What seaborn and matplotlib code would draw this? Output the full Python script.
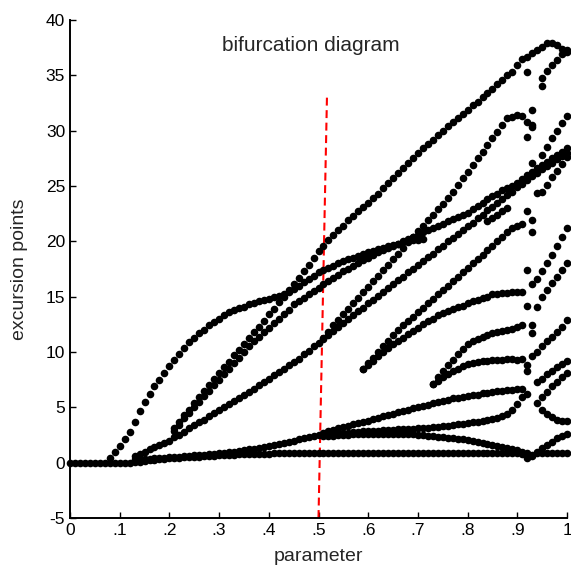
import numpy as np
import pandas as pd
import seaborn as sns
import matplotlib.pyplot as plt

# parameter sweep step (every branch is sampled on this grid)
step = 0.01

# --- branches of the diagram: start parameter + excursion values ---
flat_x0 = 0.00
flat_y = [0, 0, 0, 0, 0, 0, 0, 0, 0, 0, 0, 0, 0,
          0.05, 0.1, 0.15, 0.2, 0.25, 0.3, 0.35, 0.4, 0.42, 0.45,
          0.48, 0.5, 0.52, 0.55, 0.58, 0.6, 0.62, 0.65, 0.68, 0.7,
          0.72, 0.74, 0.76, 0.78, 0.8, 0.8, 0.82, 0.82, 0.84, 0.85,
          0.85, 0.86, 0.86, 0.87, 0.85, 0.87, 0.88, 0.86, 0.87, 0.88,
          0.87, 0.86, 0.88, 0.87, 0.85, 0.88, 0.87, 0.86, 0.88, 0.87,
          0.86, 0.88, 0.87, 0.85, 0.87, 0.88, 0.86, 0.87, 0.88, 0.87,
          0.86, 0.87, 0.88, 0.86, 0.87, 0.85, 0.87, 0.88, 0.86, 0.87,
          0.88, 0.86, 0.87, 0.87, 0.86, 0.88, 0.87, 0.85, 0.8, 0.4,
          0.7, 0.85, 0.87, 0.86, 0.88, 0.87, 0.86, 0.87]

low_trunk_x0 = 0.13
low_trunk_y = [0.3, 0.3, 0.35, 0.35, 0.4, 0.4, 0.45, 0.5, 0.5, 0.55,
               0.6, 0.6, 0.65, 0.7, 0.72, 0.75, 0.8, 0.85, 0.9, 0.95,
               1.0, 1.05, 1.1, 1.2, 1.25, 1.35, 1.4, 1.5, 1.6, 1.7,
               1.8, 1.9, 2.0, 2.1, 2.2, 2.3, 2.4, 2.5]

low1_x0 = 0.51
low1_y = [2.7, 2.85, 2.95, 3.1, 3.2, 3.35, 3.45, 3.55, 3.7, 3.8,
          3.95, 4.05, 4.2, 4.3, 4.4, 4.55, 4.65, 4.75, 4.9, 5.0,
          5.1, 5.25, 5.35, 5.5, 5.6, 5.7, 5.8, 5.85, 5.95, 6.0,
          6.1, 6.15, 6.25, 6.3, 6.4, 6.45, 6.5, 6.55, 6.6, 6.65, 6.7]

low2_x0 = 0.51
low2_y = [2.5, 2.55, 2.6, 2.65, 2.7, 2.72, 2.75, 2.8, 2.82, 2.85,
          2.88, 2.9, 2.92, 2.95, 2.97, 3.0, 3.0, 3.05, 3.05, 3.1,
          3.12, 3.15, 3.2, 3.25, 3.3, 3.35, 3.4, 3.45, 3.5, 3.6,
          3.65, 3.7, 3.8, 3.85, 3.95, 4.05, 4.2, 4.4, 4.8, 5.3, 5.9]

low3_x0 = 0.51
low3_y = [2.4, 2.42, 2.45, 2.48, 2.5, 2.52, 2.55, 2.57, 2.58, 2.6,
          2.6, 2.62, 2.62, 2.63, 2.62, 2.6, 2.6, 2.58, 2.55, 2.52,
          2.48, 2.45, 2.4, 2.35, 2.3, 2.25, 2.2, 2.15, 2.1, 2.05,
          1.95, 1.9, 1.8, 1.72, 1.62, 1.52, 1.42, 1.32, 1.2, 1.1, 1.0, 0.9]

arch_x0 = 0.08
arch_y = [0.4, 1.0, 1.5, 2.1, 2.8, 3.7, 4.7, 5.5, 6.2, 6.9,
          7.5, 8.1, 8.7, 9.3, 9.8, 10.4, 10.9, 11.3, 11.7, 12.0,
          12.4, 12.7, 13.0, 13.3, 13.6, 13.8, 14.0, 14.1, 14.3, 14.4,
          14.6, 14.7, 14.8, 15.0, 15.1, 15.2, 15.4, 15.7, 16.0, 16.3,
          16.6, 16.9, 17.2, 17.4, 17.6, 17.8, 18.0, 18.2, 18.4, 18.5,
          18.7, 18.9, 19.0, 19.1, 19.3, 19.4, 19.6, 19.7, 19.8, 19.9,
          20.0, 20.1, 20.1, 20.2]

top_x0 = 0.21
top_y = [3.1, 3.7, 4.3, 4.8, 5.4, 5.9, 6.5, 7.0, 7.6, 8.1,
         8.6, 9.1, 9.7, 10.2, 10.7, 11.3, 11.8, 12.3, 12.8, 13.4,
         13.9, 14.5, 15.0, 15.6, 16.1, 16.7, 17.3, 17.9, 18.5, 19.1,
         19.6, 20.1, 20.6, 21.0, 21.4, 21.9, 22.3, 22.7, 23.1, 23.5,
         23.9, 24.3, 24.8, 25.3, 25.7, 26.2, 26.6, 27.1, 27.5, 28.0,
         28.4, 28.8, 29.2, 29.6, 30.0, 30.4, 30.8, 31.1, 31.5, 31.9,
         32.3, 32.6, 33.0, 33.4, 33.8, 34.2, 34.6, 35.0, 35.3, 35.9,
         36.5, 36.7, 37.0, 37.3, 37.6, 37.9, 37.9, 37.7, 37.4, 37.1]

mid_x0 = 0.21
mid_y = [2.9, 3.4, 4.0, 4.5, 5.0, 5.5, 6.0, 6.5, 7.0, 7.5,
         8.0, 8.5, 9.0, 9.5, 10.0, 10.5, 11.0, 11.4, 11.8, 12.2,
         12.6, 13.0, 13.4, 13.8, 14.3, 14.6, 14.9, 15.2, 15.5, 15.8,
         16.1, 16.4, 16.7, 17.0, 17.3, 17.5, 17.8, 18.0, 18.3, 18.5,
         18.8, 19.0, 19.2, 19.4, 19.6, 19.8, 20.0, 20.2, 20.4, 20.6,
         20.8, 21.0, 21.2, 21.4, 21.6, 21.8, 22.0, 22.2, 22.4, 22.6,
         22.9, 23.2, 23.5, 23.8, 24.1, 24.3, 24.6, 24.8, 25.0, 25.3,
         25.6, 26.0, 26.3, 26.6, 26.9, 27.2, 27.5, 27.8, 28.1, 28.4]

fan_trunk_x0 = 0.13
fan_trunk_y = [0.6, 0.8, 1.0, 1.2, 1.4, 1.6, 1.8, 2.0, 2.3, 2.5,
               2.8, 3.1, 3.4, 3.7, 3.9, 4.2, 4.5, 4.8, 5.0, 5.3,
               5.6, 5.8, 6.1, 6.4, 6.7, 7.0, 7.3, 7.6, 7.9, 8.2,
               8.5, 8.8, 9.1, 9.4, 9.8, 10.1, 10.5, 10.8]

fan1_x0 = 0.51
fan1_y = [11.3, 11.8, 12.4, 12.9, 13.4, 13.9, 14.4, 14.9, 15.4, 15.9,
          16.4, 16.9, 17.4, 17.9, 18.4, 18.9, 19.4, 19.9, 20.4, 20.9,
          21.4, 21.9, 22.4, 22.9, 23.4, 23.9, 24.5, 25.1, 25.7, 26.3,
          26.9, 27.5, 28.1, 28.7, 29.3, 29.9, 30.5, 31.1, 31.2, 31.4,
          31.3, 30.8, 30.3]

fan2_x0 = 0.51
fan2_y = [11.2, 11.5, 11.9, 12.3, 12.6, 13.0, 13.3, 13.7, 14.0, 14.4,
          14.7, 15.1, 15.4, 15.8, 16.1, 16.5, 16.8, 17.2, 17.5, 17.9,
          18.2, 18.6, 18.9, 19.3, 19.6, 20.0, 20.3, 20.7, 21.0, 21.4,
          21.7, 22.1, 22.4, 22.8, 23.1, 23.5, 23.8, 24.2, 24.5, 24.9,
          25.2, 25.5, 25.9, 26.2, 26.5, 26.8, 27.1, 27.4, 27.7, 28.0]

fan3_x0 = 0.84
fan3_y = [21.8, 22.1, 22.4, 22.7, 23.0]

g1_x0 = 0.59
g1_y = [8.5, 9.0, 9.5, 10.0, 10.5, 11.0, 11.5, 12.0, 12.4, 12.8,
        13.2, 13.6, 14.0, 14.4, 14.8, 15.2, 15.6, 16.0, 16.4, 16.8,
        17.2, 17.6, 18.0, 18.4, 18.8, 19.2, 19.6, 20.0, 20.4, 20.8,
        21.2, 21.4, 21.6]

g2_x0 = 0.59
g2_y = [8.5, 8.8, 9.2, 9.6, 10.0, 10.4, 10.7, 11.0, 11.3, 11.6,
        11.9, 12.2, 12.5, 12.8, 13.0, 13.3, 13.5, 13.7, 13.9, 14.1,
        14.2, 14.4, 14.6, 14.7, 14.9, 15.0, 15.2, 15.2, 15.3, 15.3,
        15.4, 15.4, 15.4]

h1_x0 = 0.73
h1_y = [7.1, 7.7, 8.3, 8.8, 9.3, 9.8, 10.3, 10.7, 11.0, 11.2,
        11.4, 11.5, 11.7, 11.8, 11.9, 12.0, 12.1, 12.3, 12.4]

h2_x0 = 0.73
h2_y = [7.1, 7.4, 7.7, 8.0, 8.3, 8.5, 8.7, 8.9, 9.0, 9.1,
        9.2, 9.2, 9.3, 9.3, 9.3, 9.4, 9.4, 9.3, 9.4]

# short branches past the crisis near 0.92
r_low_x0, r_low_y = 0.93, [0.6, 1.0, 1.3, 1.6, 1.9, 2.2, 2.4, 2.6]
r_a_x0, r_a_y = 0.94, [5.4, 4.8, 4.4, 4.1, 3.9, 3.8, 3.8]
r_b_x0, r_b_y = 0.95, [5.9, 6.4, 6.9, 7.3, 7.7, 8.1]
r_c_x0, r_c_y = 0.94, [7.3, 7.6, 8.0, 8.3, 8.6, 8.9, 9.2]
r_d_x0, r_d_y = 0.93, [9.6, 10.0, 10.5, 11.0, 11.4, 11.8, 12.3, 12.9]
r_f_x0, r_f_y = 0.95, [15.0, 15.6, 16.2, 16.8, 17.4, 18.0]
r_e_x0, r_e_y = 0.94, [16.6, 17.3, 18.0, 18.8, 19.6, 20.4, 21.2]
r_g_x0, r_g_y = 0.95, [24.5, 25.1, 25.8, 26.4, 27.0, 27.6]
r_h_x0, r_h_y = 0.95, [27.8, 28.5, 29.3, 30.0, 30.7, 31.3]
r_top_x0, r_top_y = 0.95, [34.8, 35.4, 35.9, 36.4, 36.9, 37.3]

# isolated points around the crisis
lone_x = [0.92, 0.92, 0.92, 0.93, 0.93, 0.92, 0.94, 0.92, 0.93,
          0.92, 0.93, 0.93, 0.94, 0.93, 0.92, 0.93, 0.93, 0.92, 0.95]
lone_y = [6.2, 8.8, 8.3, 11.7, 12.4, 14.2, 14.1, 17.4, 16.1,
          22.7, 21.9, 20.8, 24.4, 27.1, 29.4, 30.5, 31.9, 35.3, 34.0]

# reference marker (dashed red line)
cut_x = [0.50, 0.517]
cut_y = [-5, 33]

xtick_vals = [0, 0.1, 0.2, 0.3, 0.4, 0.5, 0.6, 0.7, 0.8, 0.9, 1.0]
xtick_labels = ['0', '.1', '.2', '.3', '.4', '.5', '.6', '.7', '.8', '.9', '1']
ytick_vals = [-5, 0, 5, 10, 15, 20, 25, 30, 35, 40]

branches = [
    (flat_x0, flat_y), (low_trunk_x0, low_trunk_y), (low1_x0, low1_y),
    (low2_x0, low2_y), (low3_x0, low3_y), (arch_x0, arch_y),
    (top_x0, top_y), (mid_x0, mid_y), (fan_trunk_x0, fan_trunk_y),
    (fan1_x0, fan1_y), (fan2_x0, fan2_y), (fan3_x0, fan3_y),
    (g1_x0, g1_y), (g2_x0, g2_y), (h1_x0, h1_y), (h2_x0, h2_y),
    (r_low_x0, r_low_y), (r_a_x0, r_a_y), (r_b_x0, r_b_y), (r_c_x0, r_c_y),
    (r_d_x0, r_d_y), (r_f_x0, r_f_y), (r_e_x0, r_e_y), (r_g_x0, r_g_y),
    (r_h_x0, r_h_y), (r_top_x0, r_top_y),
]

frames = []
for i, (x0, ys) in enumerate(branches):
    xs = x0 + step * np.arange(len(ys))
    frames.append(pd.DataFrame({'parameter': xs, 'excursion': ys, 'branch': i}))
frames.append(pd.DataFrame({'parameter': lone_x, 'excursion': lone_y, 'branch': -1}))
df = pd.concat(frames, ignore_index=True)

sns.set_theme(style="ticks")
plt.rcParams['font.family'] = ['Liberation Sans', 'DejaVu Sans']
plt.rcParams['axes.unicode_minus'] = False

fig = plt.figure(figsize=(5.71, 5.79), dpi=100)
ax = fig.add_axes([70 / 571, 61 / 579, 497 / 571, 498 / 579])

ax.plot(cut_x, cut_y, color='red', linestyle=(0, (3.8, 2.2)), linewidth=1.5, zorder=1)
sns.scatterplot(data=df, x='parameter', y='excursion', color='black', s=30,
                linewidth=0, legend=False, ax=ax, zorder=2, clip_on=False)

ax.set_xlim(0, 1)
ax.set_ylim(-5, 40)
ax.set_xticks(xtick_vals)
ax.set_xticklabels(xtick_labels)
ax.set_yticks(ytick_vals)
ax.tick_params(direction='in', length=4, width=1, colors='black', labelsize=12.5, pad=3.5)
sns.despine(ax=ax)
for side in ['left', 'bottom']:
    ax.spines[side].set_linewidth(1.4)
    ax.spines[side].set_color('black')

ax.text(0.485, 37.2, 'bifurcation diagram', ha='center', va='baseline', fontsize=15)
ax.set_xlabel('parameter', fontsize=14, labelpad=7)
ax.set_ylabel('excursion points', fontsize=14, labelpad=13)

plt.savefig('out.png', dpi=100)
